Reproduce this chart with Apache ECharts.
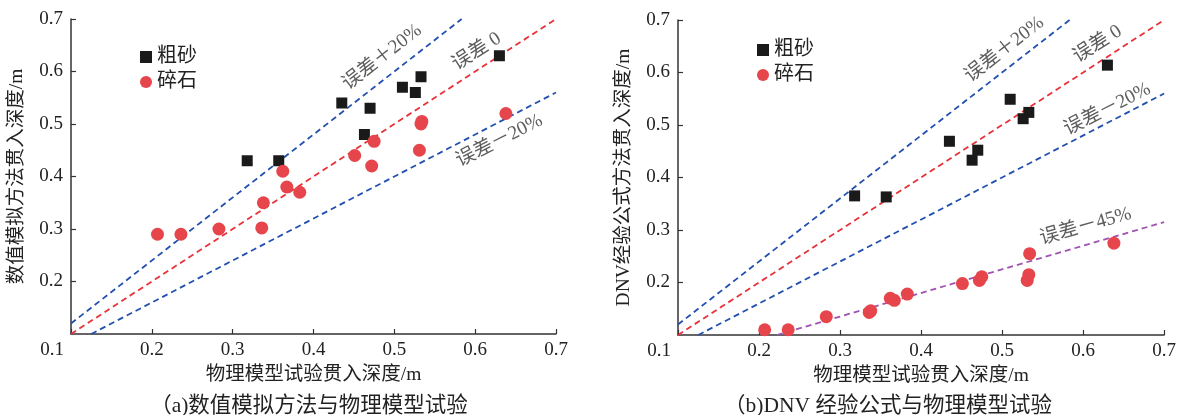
<!DOCTYPE html>
<html>
<head>
<meta charset="utf-8">
<script src="https://cdn.jsdelivr.net/npm/echarts@6/dist/echarts.min.js"></script>
<style>
  html, body { margin: 0; padding: 0; background: #fff; }
  #chart { width: 1179px; height: 415px; }
</style>
</head>
<body>
<div id="chart"></div>
<script>
// physical model test depth (x) for both panels
const sandX = [0.318, 0.357, 0.435, 0.463, 0.47, 0.51, 0.526, 0.533, 0.63]
const sandNum = [0.43, 0.43, 0.54, 0.48, 0.53, 0.57, 0.56, 0.59, 0.63]
const sandDnv = [0.365, 0.363, 0.469, 0.433, 0.452, 0.549, 0.512, 0.524, 0.614]

const gravelX = [0.207, 0.236, 0.283, 0.336, 0.338, 0.362, 0.367, 0.383, 0.451, 0.472, 0.475, 0.531, 0.533, 0.534, 0.638]
const gravelNum = [0.29, 0.29, 0.30, 0.302, 0.35, 0.41, 0.38, 0.37, 0.44, 0.42, 0.467, 0.45, 0.50, 0.505, 0.52]
const gravelDnv = [0.11, 0.11, 0.135, 0.143, 0.146, 0.17, 0.166, 0.178, 0.198, 0.204, 0.211, 0.204, 0.215, 0.255, 0.275]

// error reference lines (end points)
const lineZero = [[0.1, 0.1], [0.7, 0.7]]
const linePlus20 = [[0.1, 0.12], [0.5833, 0.7]]
const lineMinus20 = [[0.125, 0.1], [0.7, 0.56]]
const lineMinus45 = [[0.222, 0.1], [0.7, 0.315]]

// labels of the reference lines: [x, y, text, angle]
const labelsA = [
  [0.485, 0.627, '误差＋20%', 38],
  [0.602, 0.638, '误差 0', 33],
  [0.630, 0.468, '误差－20%', 27]
]
const labelsB = [
  [0.503, 0.644, '误差＋20%', 38],
  [0.618, 0.654, '误差 0', 33],
  [0.630, 0.530, '误差－20%', 27],
  [0.603, 0.307, '误差－45%', 16]
]

const axisTicks = { min: 0.1, max: 0.7, interval: 0.1 }

const FONT = '"Liberation Serif", "Noto Sans CJK SC", serif'
const BLUE = '#2250b0'
const RED = '#e8323a'
const PURPLE = '#a052b2'
const DOT = '#e5454b'
const INK = '#222'

const zip = (xs, ys) => xs.map((x, i) => [x, ys[i]])

function xAxisOf(idx) {
  return {
    type: 'value',
    gridIndex: idx,
    min: axisTicks.min,
    max: axisTicks.max,
    interval: axisTicks.interval,
    name: '物理模型试验贯入深度/m',
    nameLocation: 'middle',
    nameGap: 29,
    nameTextStyle: { fontFamily: FONT, fontSize: 19.5, color: INK },
    axisLine: { lineStyle: { color: '#333', width: 1.5 } },
    axisTick: { inside: true, length: 5, lineStyle: { color: '#333', width: 1.2 } },
    splitLine: { show: false },
    axisLabel: {
      fontFamily: FONT, fontSize: 19, color: INK, margin: 7,
      formatter: v => Math.abs(v - 0.1) < 1e-6 ? '{c|0.1}' : v.toFixed(1),
      rich: { c: { fontFamily: FONT, fontSize: 19, color: INK, padding: [0, 38, 0, 0] } }
    }
  }
}

function yAxisOf(idx, name) {
  return {
    type: 'value',
    gridIndex: idx,
    min: axisTicks.min,
    max: axisTicks.max,
    interval: axisTicks.interval,
    name: name,
    nameLocation: 'middle',
    nameGap: 44,
    nameTextStyle: { fontFamily: FONT, fontSize: 19.5, color: INK },
    axisLine: { lineStyle: { color: '#333', width: 1.5 } },
    axisTick: { inside: true, length: 5, lineStyle: { color: '#333', width: 1.2 } },
    splitLine: { show: false },
    axisLabel: { fontFamily: FONT, fontSize: 19, color: INK, margin: 8, showMinLabel: false, formatter: v => v.toFixed(1) }
  }
}

function refLine(idx, data, color) {
  return {
    type: 'line', xAxisIndex: idx, yAxisIndex: idx, data: data,
    symbol: 'none', silent: true, z: 1,
    lineStyle: { color: color, width: 1.8, type: [6, 4] }
  }
}

function lineLabels(idx, list) {
  return {
    type: 'scatter', xAxisIndex: idx, yAxisIndex: idx, symbolSize: 0, silent: true,
    data: list.map(l => ({
      value: [l[0], l[1]],
      label: { show: true, position: 'inside', formatter: l[2], rotate: l[3] }
    })),
    label: { fontFamily: FONT, fontSize: 19.5, color: '#333' }
  }
}

function pointSeries(idx, name, xs, ys) {
  const sand = name === '粗砂'
  return {
    name: name, type: 'scatter', xAxisIndex: idx, yAxisIndex: idx, z: 5,
    data: zip(xs, ys),
    symbol: sand ? 'rect' : 'circle',
    symbolSize: sand ? 11 : 13,
    itemStyle: { color: sand ? '#1a1a1a' : DOT, opacity: 1 }
  }
}

function legendOf(left, top) {
  return {
    orient: 'vertical', left: left, top: top,
    itemWidth: 12, itemHeight: 12, itemGap: 5,
    textStyle: { fontFamily: FONT, fontSize: 20, color: INK },
    data: [
      { name: '粗砂', icon: 'rect', itemStyle: { color: '#1a1a1a' } },
      { name: '碎石', icon: 'circle', itemStyle: { color: DOT } }
    ],
    selectedMode: false
  }
}

const chart = echarts.init(document.getElementById('chart'))

chart.setOption({
  backgroundColor: '#fff',
  animation: false,
  title: [
    { text: '（a)数值模拟方法与物理模型试验', left: 304, top: 391, textAlign: 'center',
      textStyle: { fontFamily: FONT, fontSize: 21.5, fontWeight: 'normal', color: INK } },
    { text: '（b)DNV 经验公式与物理模型试验', left: 883, top: 391, textAlign: 'center',
      textStyle: { fontFamily: FONT, fontSize: 21.5, fontWeight: 'normal', color: INK } }
  ],
  legend: [legendOf(135, 42), legendOf(752, 35)],
  grid: [
    { left: 71, top: 19, width: 485, height: 315 },
    { left: 678, top: 20, width: 487, height: 315 }
  ],
  xAxis: [xAxisOf(0), xAxisOf(1)],
  yAxis: [yAxisOf(0, '数值模拟方法贯入深度/m'), yAxisOf(1, 'DNV经验公式方法贯入深度/m')],
  series: [
    refLine(0, linePlus20, BLUE),
    refLine(0, lineZero, RED),
    refLine(0, lineMinus20, BLUE),
    lineLabels(0, labelsA),
    pointSeries(0, '粗砂', sandX, sandNum),
    pointSeries(0, '碎石', gravelX, gravelNum),

    refLine(1, linePlus20, BLUE),
    refLine(1, lineZero, RED),
    refLine(1, lineMinus20, BLUE),
    refLine(1, lineMinus45, PURPLE),
    lineLabels(1, labelsB),
    pointSeries(1, '粗砂', sandX, sandDnv),
    pointSeries(1, '碎石', gravelX, gravelDnv)
  ]
})
</script>
</body>
</html>
